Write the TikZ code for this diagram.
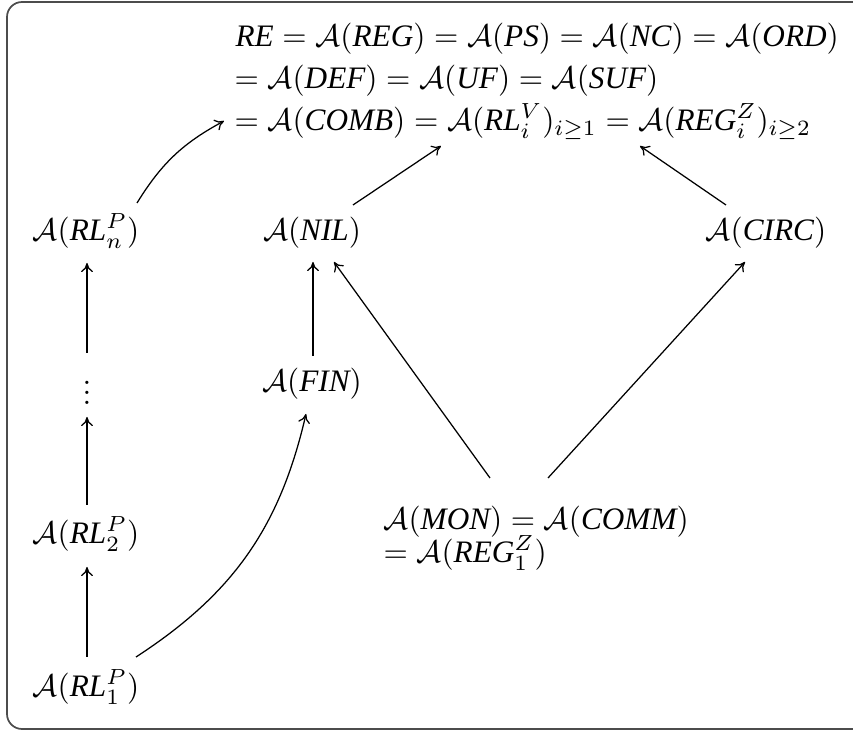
\documentclass[tikz,border=0pt]{standalone}
\usepackage[no-math]{fontspec}
\setmainfont{Liberation Serif}
\usetikzlibrary{calc,arrows.meta}
\newcommand{\ti}[1]{\textit{#1}}
\newcommand{\cA}{\mathcal{A}}
\newcommand{\myvdots}{\vbox{\baselineskip=3.2pt\lineskiplimit=0pt\hbox{$.$}\hbox{$.$}\hbox{$.$}}}
\begin{document}
\begin{tikzpicture}[x=0.32pt,y=-0.32pt,
  lbl/.style={inner sep=0pt, anchor=base, font=\fontsize{10}{12}\selectfont},
  lline/.style={inner sep=0pt, anchor=base west, font=\fontsize{10}{12}\selectfont},
  arr/.style={-{To[length=2.9pt,width=3.8pt]}, line width=0.4pt},
  frame/.style={draw=black!70, line width=0.55pt, rounded corners=4.8pt}]
\useasboundingbox (0,0) rectangle (853,731);
\clip (0,0) rectangle (853,731);
\draw[frame] (7,2) rectangle (880,729);

% top block
\node[lline] (t1) at (235,47) {$\ti{RE}=\cA(\ti{REG})=\cA(\ti{PS})=\cA(\ti{NC})=\cA(\ti{ORD})$};
\node[lline] (t2) at (234,89) {$=\cA(\ti{DEF})=\cA(\ti{UF})=\cA(\ti{SUF})$};
\node[lline] (t3) at (234,131) {$=\cA(\ti{COMB})=\cA(\ti{RL}_i^V)_{i\geq 1}=\cA(\ti{REG}_i^Z)_{i\geq 2}$};

% nodes
\node[lbl] (rln) at (86,241) {$\cA(\ti{RL}_n^P)$};
\node[lbl] (nil) at (312,241) {$\cA(\ti{NIL})$};
\node[lbl] (circ) at (766,241) {$\cA(\ti{CIRC})$};
\node[lbl] (fin) at (312,392) {$\cA(\ti{FIN})$};
\node[inner sep=0pt, font=\fontsize{10}{12}\selectfont] (dots) at (87,393) {\myvdots};
\node[lbl] (rl2) at (86,544) {$\cA(\ti{RL}_2^P)$};
\node[lbl] (rl1) at (86,697) {$\cA(\ti{RL}_1^P)$};
\node[lline] (m1) at (383,530) {$\cA(\ti{MON})=\cA(\ti{COMM})$};
\node[lline] (m2) at (383,563) {$=\cA(\ti{REG}_1^Z)$};

% connectors
\draw[arr] ($(rln.base)+(51,-38)$) to[bend left=15] ($(t3.base west)+(-10,-10)$);
\draw[arr] ($(nil.base)+(41,-36)$) -- ($(t3.base west)+(207,15)$);
\draw[arr] ($(circ.base)+(-40,-36)$) -- ($(t3.base west)+(406,15)$);
\draw[arr] ($(dots.center)+(0,-40)$) -- ($(rln.base)+(1,22)$);
\draw[arr] ($(rl2.base)+(1,-39)$) -- ($(dots.center)+(0,24)$);
\draw[arr] ($(rl1.base)+(1,-40)$) -- ($(rl2.base)+(1,23)$);
\draw[arr] ($(fin.base)+(1,-36)$) -- ($(nil.base)+(1,21)$);
\draw[arr] ($(rl1.base)+(50,-40)$) to[bend right=22] ($(fin.base)+(-6,22)$);
\draw[arr] ($(m1.base west)+(107,-52)$) -- ($(nil.base)+(22,21)$);
\draw[arr] ($(m1.base west)+(165,-52)$) -- ($(circ.base)+(-21,21)$);
\end{tikzpicture}
\end{document}
